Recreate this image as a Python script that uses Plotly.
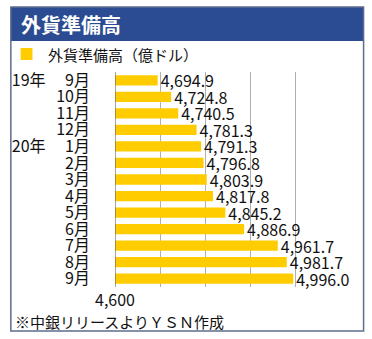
import plotly.graph_objects as go

categories = ["19年\u3000\u00a09月", "10月", "11月", "12月", "20年\u3000\u00a01月", "2月", "3月",
              "4月", "5月", "6月", "7月", "8月", "9月"]
values = [4694.9, 4724.8, 4740.5, 4781.3, 4791.3, 4796.8, 4803.9,
          4817.8, 4845.2, 4886.9, 4961.7, 4981.7, 4996.0]
tick_vals = [4600, 4700, 4800, 4900, 5000]
tick_text = ["4,600", "", "", "", ""]

W, H = 372, 339
L, R, T, B = 111, 340, 72, 287
FONT = "Noto Sans CJK JP"

def px(x):
    return (x - L) / (R - L)

def py(y):
    return (B - y) / (B - T)

fig = go.Figure(go.Bar(
    x=values, y=categories, orientation="h",
    marker=dict(color="#FFCC00", line=dict(width=0)),
    text=values, texttemplate="%{x:,.1f}", textposition="outside",
    constraintext="none",
    textfont=dict(size=16, color="#111111", family=FONT),
    cliponaxis=False, width=0.62,
))

fig.update_layout(
    width=W, height=H,
    margin=dict(l=L, r=W - R, t=T, b=H - B),
    paper_bgcolor="white", plot_bgcolor="white",
    showlegend=False,
    font=dict(family=FONT, color="#111111"),
    xaxis=dict(range=[4600, 5100], tickvals=tick_vals, ticktext=tick_text,
               showgrid=True, gridcolor="#b0b0b0", gridwidth=1,
               zeroline=False, showline=False, ticks="",
               tickfont=dict(size=16, family=FONT, color="#111111"),
               ticklabelstandoff=2),
    yaxis=dict(autorange="reversed", showgrid=False, zeroline=False,
               showline=False, ticks="", tickmode="array",
               tickvals=categories, ticktext=categories,
               tickfont=dict(size=16, family=FONT, color="#111111"),
               ticklabelstandoff=24),
    bargap=0.4,
    uniformtext=dict(mode=False),
)

# axis line at 4,600
fig.add_shape(type="line", xref="x", yref="paper", x0=4600, x1=4600, y0=0, y1=1,
              line=dict(color="#666666", width=1.2))

# outer frame and title bar
fig.add_shape(type="rect", xref="paper", yref="paper",
              x0=px(5), x1=px(364), y0=py(7), y1=py(41),
              fillcolor="#2b4b93", line=dict(width=0), layer="below")
fig.add_shape(type="rect", xref="paper", yref="paper",
              x0=px(5), x1=px(364), y0=py(7), y1=py(331),
              line=dict(color="#5d6d8e", width=1.5), fillcolor="rgba(0,0,0,0)")

# legend swatch
fig.add_shape(type="rect", xref="paper", yref="paper",
              x0=px(15), x1=px(27), y0=py(48), y1=py(60),
              fillcolor="#FFCC00", line=dict(width=0))

fig.add_annotation(xref="paper", yref="paper", x=px(13), y=py(24),
                   text="<b>外貨準備高</b>", showarrow=False,
                   xanchor="left", yanchor="middle",
                   font=dict(size=20, color="white", family=FONT))
fig.add_annotation(xref="paper", yref="paper", x=px(41), y=py(54),
                   text="外貨準備高（億ドル）", showarrow=False,
                   xanchor="left", yanchor="middle",
                   font=dict(size=15, color="#111111", family=FONT))
fig.add_annotation(xref="paper", yref="paper", x=px(7), y=py(321),
                   text="※中銀リリースよりＹＳＮ作成", showarrow=False,
                   xanchor="left", yanchor="middle",
                   font=dict(size=15, color="#111111", family=FONT))

fig.write_html("out.html")
